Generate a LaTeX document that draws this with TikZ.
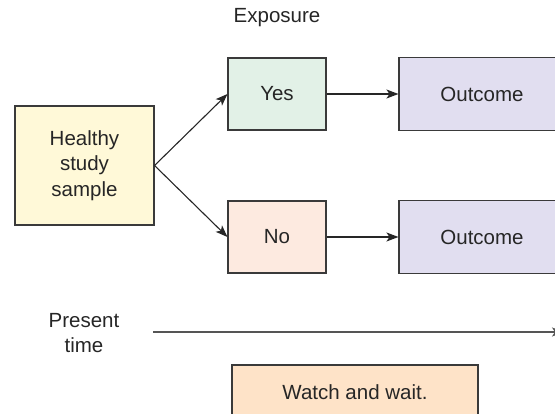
\documentclass[tikz,border=0pt]{standalone}
\usepackage{fontspec}
\setmainfont{Liberation Sans}
\usetikzlibrary{arrows.meta}
\definecolor{bordc}{HTML}{3A3A3A}
\definecolor{healthyc}{HTML}{FFF9D8}
\definecolor{yesc}{HTML}{E2F1E7}
\definecolor{noc}{HTML}{FDEAE0}
\definecolor{outc}{HTML}{E1DEF0}
\definecolor{watchc}{HTML}{FEE3C8}
\definecolor{linec}{HTML}{555555}
\tikzset{
  boxstyle/.style={draw=bordc, line width=1.1pt, inner sep=0pt, align=center,
    font=\fontsize{20.5}{25.5}\selectfont, text=black!85},
  lbl/.style={inner sep=0pt, align=center, font=\fontsize{20.5}{25.5}\selectfont, text=black!85},
  arr/.style={draw=black!85, line width=1.1pt, -{Stealth[length=12pt,width=9pt,inset=3pt]}},
}
\begin{document}
\begin{tikzpicture}[x=1pt,y=-1pt]
\useasboundingbox (0,0) rectangle (555,414);
\node[lbl] (exposure) at (277,18) {Exposure};
\node[boxstyle, fill=healthyc, minimum width=139pt, minimum height=119pt] (healthy) at (84.5,165.5) {Healthy\\study\\sample};
\node[boxstyle, fill=yesc, minimum width=98pt, minimum height=72pt] (yes) at (277,94) {Yes};
\node[boxstyle, fill=noc, minimum width=98pt, minimum height=72pt] (no) at (277,237) {No};
\node[boxstyle, fill=outc, minimum width=166pt, minimum height=73pt] (out1) at (482,94) {Outcome};
\node[boxstyle, fill=outc, minimum width=166pt, minimum height=73pt] (out2) at (482,237) {Outcome};
\node[lbl] (present) at (84,333) {Present\\time};
\node[boxstyle, fill=watchc, minimum width=246pt, minimum height=54pt] (watch) at (355,392) {Watch and wait.};
\coordinate (tstart) at (153,332);
\coordinate (tend) at (564,332);
\draw[arr] (healthy.east) -- (yes.west);
\draw[arr] (healthy.east) -- (no.west);
\draw[arr] (yes.east) -- (out1.west);
\draw[arr] (no.east) -- (out2.west);
\draw[arr, draw=linec, line width=1.4pt] (tstart) -- (tend);
\end{tikzpicture}
\end{document}
